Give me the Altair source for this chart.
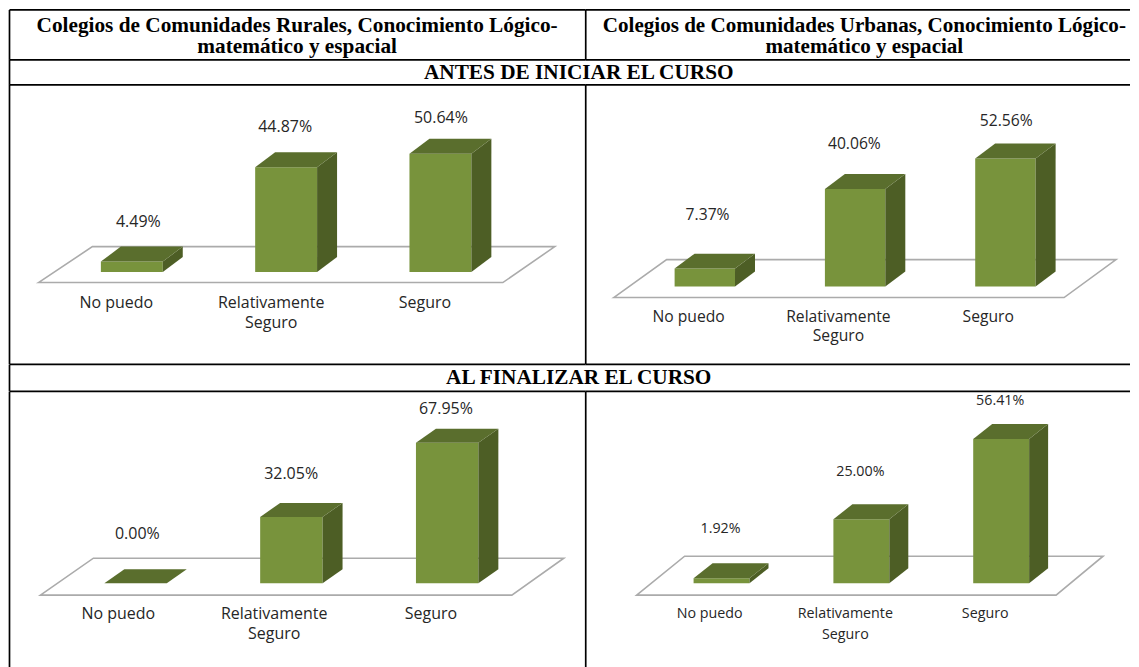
import altair as alt
import pandas as pd

categories = ["No puedo", "Relativamente\nSeguro", "Seguro"]
rural_antes = [4.49, 44.87, 50.64]
urbano_antes = [7.37, 40.06, 52.56]
rural_final = [0.00, 32.05, 67.95]
urbano_final = [1.92, 25.00, 56.41]

header_rural = "Colegios de Comunidades Rurales, Conocimiento Lógico-\nmatemático y espacial"
header_urbano = "Colegios de Comunidades Urbanas, Conocimiento Lógico-\nmatemático y espacial"
band_antes = "ANTES DE INICIAR EL CURSO"
band_final = "AL FINALIZAR EL CURSO"

# page layout of the table, in page pixels
OX, OY = 9, 9
COL = 586
RIGHT = 1131
ROWS = [9, 59, 84, 363.5, 390, 667]
FRONT, TOP, SIDE = "#78933c", "#5a6e2d", "#4d5e25"
INK = "#262626"
LINE = "black"
LW = 1.7
SERIF = "Liberation Serif"
SANS = "Open Sans"
HEAD_FS = 21.3

panels = [
    dict(values=rural_antes, cx=OX, cy=ROWS[2], W=COL - OX, H=ROWS[3] - ROWS[2],
         L0=100.5, step=154.5, bw=62, base=271.5, k=2.34, dx=20, dy=15,
         floor=[(38, 282), (92, 246), (503, 246), (555, 246)], floor_front=282,
         lab_x=[138, 285, 441], lab_y=[221, 126, 117], cat_x=[116, 271, 425], cat_y=294, fs=16, ls=20),
    dict(values=urbano_antes, cx=COL, cy=ROWS[2], W=RIGHT - COL, H=ROWS[3] - ROWS[2],
         L0=675, step=150.5, bw=60.5, base=286, k=2.44, dx=20, dy=15,
         floor=[(614, 297), (667, 259), (1065, 259), (1117, 259)], floor_front=297,
         lab_x=[708, 855, 1007], lab_y=[214, 143, 120], cat_x=[689, 839, 989], cat_y=309, fs=15.7, ls=20),
    dict(values=rural_final, cx=OX, cy=ROWS[4], W=COL - OX, H=ROWS[5] - ROWS[4],
         L0=104, step=156, bw=62.5, base=582, k=2.07, dx=20, dy=14,
         floor=[(40, 594), (93, 557), (512, 557), (564, 557)], floor_front=594,
         lab_x=[137, 291, 446], lab_y=[533, 473, 408], cat_x=[118, 274, 431], cat_y=605, fs=16, ls=20),
    dict(values=urbano_final, cx=COL, cy=ROWS[4], W=RIGHT - COL, H=ROWS[5] - ROWS[4],
         L0=694, step=140, bw=56, base=582, k=2.56, dx=19, dy=15,
         floor=[(637, 594), (685, 555), (1057, 555), (1104, 555)], floor_front=594,
         lab_x=[721, 861, 1001], lab_y=[528, 471, 400], cat_x=[710, 846, 986], cat_y=606, fs=14.3, ls=21),
]


def rules(width, height, left=True):
    top = alt.Chart(pd.DataFrame({"a": [0]})).mark_rule(color=LINE, strokeWidth=LW).encode(
        x=alt.value(0), x2=alt.value(width), y=alt.value(0))
    layers = [top]
    if left:
        layers.append(alt.Chart(pd.DataFrame({"a": [0]})).mark_rule(color=LINE, strokeWidth=LW).encode(
            x=alt.value(0), y=alt.value(0), y2=alt.value(height)))
    return layers


def panel(p):
    ux = lambda px: (px - p["L0"]) / p["step"]
    vy = lambda py: (p["base"] - py) / p["k"]
    xs = alt.Scale(domain=[ux(p["cx"]), ux(p["cx"] + p["W"])], nice=False, zero=False)
    ys = alt.Scale(domain=[vy(p["cy"] + p["H"]), vy(p["cy"])], nice=False, zero=False)
    X = lambda f: alt.X(f, type="quantitative", scale=xs, axis=None)
    Y = lambda f: alt.Y(f, type="quantitative", scale=ys, axis=None, stack=None)

    bw, dx, dy = p["bw"] / p["step"], p["dx"] / p["step"], p["dy"] / p["k"]
    rows = []
    for i, v in enumerate(p["values"]):
        L, R = i, i + bw
        for x, a, b in [(L, v, 0), (R, v, 0)]:
            rows.append(dict(bar=i, face="front", u=x, lo=b, hi=a))
        for x, a, b in [(R, v, 0), (R + dx, v + dy, dy)]:
            rows.append(dict(bar=i, face="side", u=x, lo=b, hi=a))
        for x, a, b in [(L, v, v), (L + dx, v + dy, v), (R, v + dy, v), (R + dx, v + dy, v + dy)]:
            rows.append(dict(bar=i, face="top", u=x, lo=b, hi=a))
    faces = pd.DataFrame(rows)

    f = p["floor"]
    yf, yb = vy(p["floor_front"]), vy(f[1][1])
    floor_df = pd.DataFrame({
        "u": [ux(c[0]) for c in f],
        "hi": [yf, yb, yb, yb],
        "lo": [yf, yf, yf, yb],
    })
    floor = alt.Chart(floor_df).mark_area(fill="white", stroke="#ababab", strokeWidth=1.6, orient="vertical").encode(
        x=X("u"), y=Y("hi"), y2="lo")
    bars = alt.Chart(faces).mark_area(orient="vertical").encode(
        x=X("u"), y=Y("hi"), y2="lo", detail="bar:N",
        color=alt.Color("face:N", legend=None,
                        scale=alt.Scale(domain=["front", "side", "top"], range=[FRONT, SIDE, TOP])))

    labels = pd.DataFrame({
        "u": [ux(x) for x in p["lab_x"]],
        "v": [vy(y) for y in p["lab_y"]],
        "t": [f"{v:.2f}%" for v in p["values"]],
    })
    val = alt.Chart(labels).mark_text(font=SANS, fontSize=p["fs"], color=INK).encode(
        x=X("u"), y=Y("v"), text="t:N")
    cats = pd.DataFrame({
        "u": [ux(x) for x in p["cat_x"]],
        "v": [vy(p["cat_y"])] * 3,
        "t": categories,
    })
    cat = alt.Chart(cats).mark_text(font=SANS, fontSize=p["fs"], color=INK, baseline="top",
                                    lineBreak="\n", lineHeight=p["ls"]).encode(
        x=X("u"), y=Y("v"), text="t:N")
    return alt.layer(floor, bars, val, cat, *rules(p["W"], p["H"])).resolve_scale(
        color="independent").properties(width=p["W"], height=p["H"])


def cell(text, width, height, cx, cy, left=True, fs=HEAD_FS):
    layers = rules(width, height, left)
    if text:
        df = pd.DataFrame({"t": [text]})
        layers.append(alt.Chart(df).mark_text(
            font=SERIF, fontWeight="bold", fontSize=fs, color="black",
            lineBreak="\n", lineHeight=21.5).encode(
            x=alt.value(cx), y=alt.value(cy), text="t:N"))
    return alt.layer(*layers).properties(width=width, height=height)


LW_, RW_ = COL - OX, RIGHT - COL
chart = alt.concat(
    cell(header_rural, LW_, ROWS[1] - ROWS[0], 297 - OX, 16),
    cell(header_urbano, RW_, ROWS[1] - ROWS[0], 865 - COL, 16, fs=21.1),
    cell(band_antes, LW_, ROWS[2] - ROWS[1], 579 - OX, 72 - ROWS[1]),
    cell(None, RW_, ROWS[2] - ROWS[1], 0, 0, left=False),
    panel(panels[0]),
    panel(panels[1]),
    cell(band_final, LW_, ROWS[4] - ROWS[3], 579 - OX, 377 - ROWS[3]),
    cell(None, RW_, ROWS[4] - ROWS[3], 0, 0, left=False),
    panel(panels[2]),
    panel(panels[3]),
    columns=2, spacing=0, bounds="flush",
).properties(padding={"left": 0.5, "top": 0.5, "right": 0, "bottom": 0}
).configure_view(stroke=None).configure_concat(spacing=0)

chart.save("out.html", embed_options={"renderer": "svg", "actions": False})
